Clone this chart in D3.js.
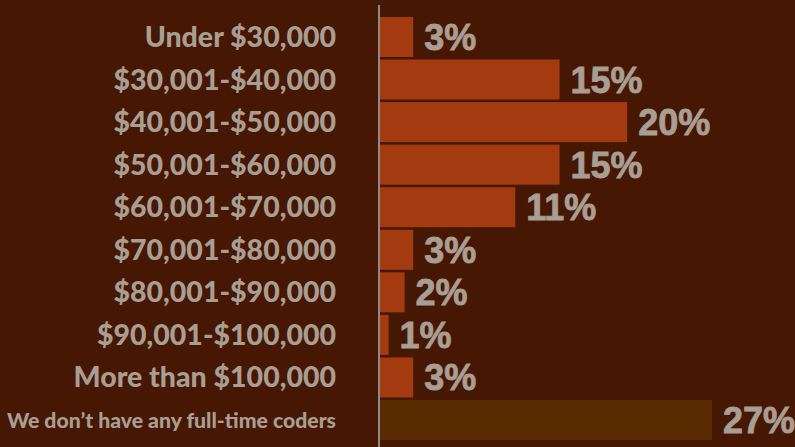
<!DOCTYPE html>
<html>
<head>
<meta charset="utf-8">
<script src="https://cdn.jsdelivr.net/npm/d3@7"></script>
<style>
  html, body { margin: 0; padding: 0; background: #461803; }
  svg { display: block; }
</style>
</head>
<body>
<svg id="chart" width="795" height="447"></svg>
<script>
const categories = [
  "Under $30,000",
  "$30,001-$40,000",
  "$40,001-$50,000",
  "$50,001-$60,000",
  "$60,001-$70,000",
  "$70,001-$80,000",
  "$80,001-$90,000",
  "$90,001-$100,000",
  "More than $100,000",
  "We don\u2019t have any full-time coders"
];
const values = [2.7, 14.6, 20.1, 14.6, 11.0, 2.7, 2.0, 0.7, 2.7, 27.0];
const valueLabels = ["3%", "15%", "20%", "15%", "11%", "3%", "2%", "1%", "3%", "27%"];

const W = 795, H = 447;
const svg = d3.select("#chart");
svg.append("rect").attr("width", W).attr("height", H).attr("fill", "#461803");

const x = d3.scaleLinear().domain([0, 27]).range([380, 712]);
const y = d3.scaleBand().domain(categories).range([15.7, 441.3])
  .paddingInner(0.06).paddingOuter(0.03);

const textColor = "#a99e94";
const last = categories.length - 1;

// bars
svg.selectAll("rect.bar").data(categories).join("rect")
  .attr("class", "bar")
  .attr("x", x(0))
  .attr("y", d => y(d))
  .attr("width", (d, i) => x(values[i]) - x(0))
  .attr("height", y.bandwidth())
  .attr("fill", (d, i) => i === last ? "#5a2a00" : "#a43b10");

// axis line
svg.append("line")
  .attr("x1", x(0) - 1).attr("x2", x(0) - 1)
  .attr("y1", 5).attr("y2", H)
  .attr("stroke", "#8c8a88").attr("stroke-width", 2);

// category labels
svg.selectAll("text.cat").data(categories).join("text")
  .attr("class", "cat")
  .attr("x", 336)
  .attr("y", (d, i) => y(d) + y.bandwidth() / 2 + (i === last ? 7.5 : 10))
  .attr("text-anchor", "end")
  .attr("font-family", "Lato, 'Open Sans', sans-serif")
  .attr("font-weight", 900)
  .attr("font-size", (d, i) => i === last ? 21.2 : 28.5)
  .attr("fill", textColor)
  .text(d => d);

// value labels
svg.selectAll("text.val").data(categories).join("text")
  .attr("class", "val")
  .attr("x", (d, i) => x(values[i]) + 11)
  .attr("y", (d, i) => y(d) + y.bandwidth() / 2 + 13)
  .attr("font-family", "'Liberation Sans', Arial, sans-serif")
  .attr("font-weight", 700)
  .attr("font-size", 36)
  .attr("fill", textColor)
  .attr("stroke", textColor)
  .attr("stroke-width", 0.8)
  .text((d, i) => valueLabels[i]);
</script>
</body>
</html>
